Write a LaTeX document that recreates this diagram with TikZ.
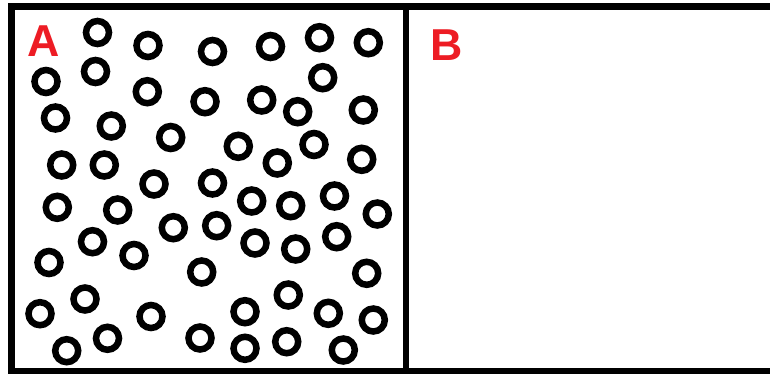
\documentclass[tikz,border=0pt]{standalone}
\usepackage{fontspec}
\setmainfont{Liberation Sans}
\definecolor{labelred}{RGB}{237,28,36}
\begin{document}
\begin{tikzpicture}[x=1pt,y=-1pt,
  particle/.style={circle,draw=black,line width=6.5pt,minimum size=23pt,inner sep=0pt},
  wall/.style={draw=black,line width=6.5pt},
  chamberlabel/.style={anchor=base west,inner sep=0pt,text=labelred,
    font=\fontsize{44.7}{44.7}\selectfont\bfseries}]
  \useasboundingbox (0,0) rectangle (770,375);
  \fill[white] (0,0) rectangle (770,375);
  % container walls and partition
  \coordinate (tl) at (11.5,6.7);
  \coordinate (bl) at (11.5,371);
  \coordinate (tr) at (780,6.7);
  \coordinate (br) at (780,371);
  \coordinate (mt) at (406,6.7);
  \coordinate (mb) at (406,371);
  \draw[wall] (tr) -- (tl) -- (bl) -- (br);
  \draw[wall] (mt) -- (mb);
  % chamber labels
  \node[chamberlabel] (labA) at (27,56.7) {A};
  \node[chamberlabel] (labB) at (430,60) {B};
  % gas particles in chamber A
  \foreach \px/\py [count=\i] in {
    97.5/32.5, 148/45.5, 212.5/51.5, 270.5/46.5, 319.5/37.7, 368.3/42.7,
    46/81.5, 95.5/71.5, 147.3/91.7, 322.7/77.7, 205/101.7, 261.7/100,
    297.7/111.7, 363.3/110, 55.5/118, 111.3/126, 170.7/137.5, 238.3/146.3,
    314/144.5, 61.7/165, 104.3/165, 277.3/163, 361.7/159.3, 154/184,
    212.5/183, 57.3/207.3, 117.7/210, 251.7/201, 290.7/205.7, 334.5/196,
    377.3/214, 173.3/227.7, 216.7/225.7, 92.5/241.7, 134/255.5, 255/243,
    295.7/249, 336.7/236.7, 49/262.5, 201.7/272, 366.7/273.3, 85/299,
    288.3/295, 40/313.7, 151/316.5, 245/311.7, 328.3/313.3, 373.3/320,
    107.5/338.3, 200/338, 245/348.3, 286.7/341.7, 66.7/350.7, 343.3/350}
    \node[particle] (p\i) at (\px,\py) {};
\end{tikzpicture}
\end{document}
